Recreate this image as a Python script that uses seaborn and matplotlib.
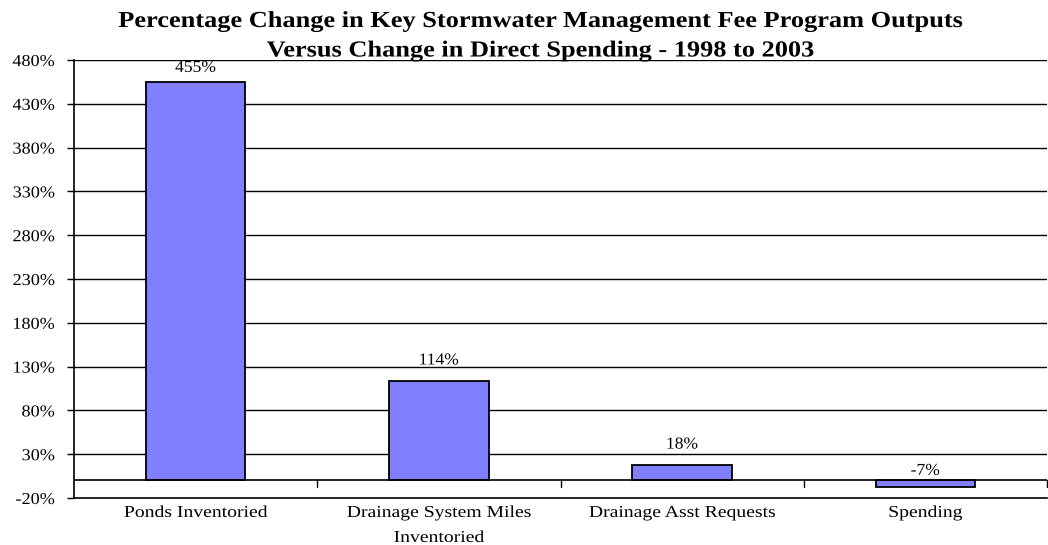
import matplotlib
matplotlib.use("Agg")
import matplotlib.pyplot as plt
import matplotlib.patheffects as pe
from matplotlib.transforms import Affine2D
import seaborn as sns
import pandas as pd
import numpy as np

categories = ["Ponds Inventoried", "Drainage System Miles\nInventoried",
              "Drainage Asst Requests", "Spending"]
pct_change = [455, 114, 18, -7]
y_ticks = [-20, 30, 80, 130, 180, 230, 280, 330, 380, 430, 480]
title_lines = ["Percentage Change in Key Stormwater Management Fee Program Outputs",
               "Versus Change in Direct Spending - 1998 to 2003"]


class HStretch(pe.AbstractPathEffect):
    """Widen glyphs horizontally around a chosen anchor of each text line."""

    def __init__(self, sx, anchor="center"):
        super().__init__()
        self.sx = sx
        self.anchor = anchor

    def draw_path(self, renderer, gc, tpath, affine, rgbFace=None):
        ext = tpath.get_extents(affine)
        if self.anchor == "right":
            cx = ext.x1
        elif self.anchor == "left":
            cx = ext.x0
        else:
            cx = 0.5 * (ext.x0 + ext.x1)
        tr = affine + Affine2D().translate(-cx, 0).scale(self.sx, 1).translate(cx, 0)
        renderer.draw_path(gc, tpath, tr, rgbFace)


sns.set_theme(style="white")
plt.rcParams["font.family"] = ["Liberation Serif", "DejaVu Serif"]
plt.rcParams["text.color"] = "black"
plt.rcParams["xtick.color"] = "black"
plt.rcParams["ytick.color"] = "black"

df = pd.DataFrame({"category": categories, "change": pct_change})

fig = plt.figure(figsize=(10.48, 5.45), dpi=100)
ax = fig.add_axes([74 / 1048, 1 - 498 / 545, (1047 - 74) / 1048, (498 - 60) / 545])

sns.barplot(data=df, x="category", y="change", ax=ax, color="#8080FF",
            saturation=1, width=0.41, edgecolor="black", linewidth=1.3, zorder=3)

ax.set_xlim(-0.5, len(categories) - 0.5)
ax.set_ylim(-20, 480)
ax.set_yticks(y_ticks)
ax.set_yticklabels([f"{t}%" for t in y_ticks])
for t in y_ticks[1:]:
    ax.axhline(t, color="black", linewidth=1, zorder=1)
ax.axhline(0, color="black", linewidth=1.2, zorder=4)

# category separators hang below the zero line
for b in np.arange(0.5, len(categories), 1.0):
    ax.plot([b, b], [0, -8], color="black", linewidth=1, zorder=4, clip_on=False)

ax.set_xticks(range(len(categories)))
ax.set_xticklabels(categories, fontsize=12, linespacing=1.75)
ax.tick_params(axis="x", length=0, pad=5)
ax.tick_params(axis="y", length=5, width=1, color="black", labelsize=12, pad=8.8,
               left=True)
ax.set_xlabel("")
ax.set_ylabel("")

for lbl in ax.get_xticklabels():
    lbl.set_color("black")
    lbl.set_path_effects([HStretch(1.18, "center")])
for lbl in ax.get_yticklabels():
    lbl.set_color("black")
    lbl.set_path_effects([HStretch(1.09, "right")])

for s in ["top", "right"]:
    ax.spines[s].set_visible(False)
for s in ["left", "bottom"]:
    ax.spines[s].set_visible(True)
    ax.spines[s].set_color("black")
    ax.spines[s].set_linewidth(1.2)

for i, v in enumerate(pct_change):
    y = min(max(v, 0) + (23 if v >= 0 else 11), 471)
    ax.text(i, y, f"{v}%", ha="center", va="center", fontsize=12, color="black",
            zorder=5, path_effects=[HStretch(1.05, "center")])

for line, base in zip(title_lines, [27, 56.5]):
    fig.text(540 / 1048, 1 - base / 545, line, ha="center", va="baseline",
             fontsize=16.5, fontweight="bold", color="black",
             path_effects=[HStretch(1.15, "center")])

fig.savefig("out.png", dpi=100)
